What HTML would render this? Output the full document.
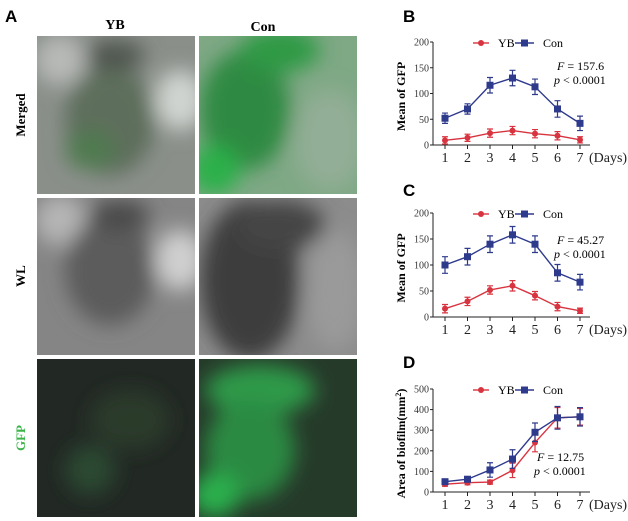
<!DOCTYPE html>
<html><head><meta charset="utf-8"><style>
body{margin:0;background:#fff;}
svg{display:block;font-family:"Liberation Serif",serif;}
</style></head><body>
<svg id="fig" width="628" height="521" viewBox="0 0 628 521">
<defs>
<filter id="bl" x="-20%" y="-20%" width="140%" height="140%"><feGaussianBlur stdDeviation="10"/></filter>
<clipPath id="c1"><rect x="37" y="36" width="158" height="158"/></clipPath>
<clipPath id="c2"><rect x="199" y="36" width="158" height="158"/></clipPath>
<clipPath id="c3"><rect x="37" y="198" width="158" height="157"/></clipPath>
<clipPath id="c4"><rect x="199" y="198" width="158" height="157"/></clipPath>
<clipPath id="c5"><rect x="37" y="359" width="158" height="158"/></clipPath>
<clipPath id="c6"><rect x="199" y="359" width="158" height="158"/></clipPath>
</defs>
<text x="5" y="22" font-size="17" font-weight="bold" font-family="Liberation Sans,sans-serif">A</text>
<text x="115" y="29" font-size="14" font-weight="bold" text-anchor="middle">YB</text>
<text x="263" y="31" font-size="14" font-weight="bold" text-anchor="middle">Con</text>
<text transform="translate(25,115) rotate(-90)" font-size="13" font-weight="bold" text-anchor="middle">Merged</text>
<text transform="translate(25,276) rotate(-90)" font-size="13" font-weight="bold" text-anchor="middle">WL</text>
<text transform="translate(25,438) rotate(-90)" font-size="13" font-weight="bold" text-anchor="middle" fill="#3cb44a">GFP</text>

<g clip-path="url(#c1)">
<rect x="37" y="36" width="158" height="158" fill="#8a8f8a"/>
<g filter="url(#bl)">
<ellipse cx="60" cy="60" rx="25" ry="25" fill="#b8bab8"/>
<ellipse cx="110" cy="120" rx="45" ry="55" fill="#5d6e5c"/>
<ellipse cx="180" cy="100" rx="25" ry="30" fill="#d0d4d0"/>
<ellipse cx="115" cy="55" rx="30" ry="15" fill="#505550"/>
<ellipse cx="90" cy="150" rx="25" ry="20" fill="#4f7a4f"/>
</g></g>
<g clip-path="url(#c2)">
<rect x="199" y="36" width="158" height="158" fill="#7fa885"/>
<g filter="url(#bl)">
<ellipse cx="245" cy="110" rx="45" ry="60" fill="#2f8a42"/>
<ellipse cx="280" cy="50" rx="40" ry="22" fill="#2f9a45"/>
<ellipse cx="215" cy="170" rx="25" ry="25" fill="#2cb04a"/>
<ellipse cx="330" cy="140" rx="35" ry="50" fill="#93ae96"/>
</g></g>
<g clip-path="url(#c3)">
<rect x="37" y="198" width="158" height="157" fill="#858585"/>
<g filter="url(#bl)">
<ellipse cx="60" cy="220" rx="25" ry="25" fill="#b5b5b5"/>
<ellipse cx="110" cy="270" rx="45" ry="55" fill="#5c5c5c"/>
<ellipse cx="180" cy="260" rx="25" ry="30" fill="#cfcfcf"/>
<ellipse cx="120" cy="215" rx="30" ry="15" fill="#4a4a4a"/>
</g></g>
<g clip-path="url(#c4)">
<rect x="199" y="198" width="158" height="157" fill="#8c8c8c"/>
<g filter="url(#bl)">
<ellipse cx="250" cy="280" rx="50" ry="80" fill="#3e3e3e"/>
<ellipse cx="280" cy="225" rx="45" ry="25" fill="#444"/>
<ellipse cx="335" cy="290" rx="30" ry="60" fill="#9a9a9a"/>
</g></g>
<g clip-path="url(#c5)">
<rect x="37" y="359" width="158" height="158" fill="#222824"/>
<g filter="url(#bl)">
<ellipse cx="90" cy="470" rx="25" ry="25" fill="#2b4a30"/>
<ellipse cx="130" cy="420" rx="40" ry="30" fill="#2a3a2c"/>
</g></g>
<g clip-path="url(#c6)">
<rect x="199" y="359" width="158" height="158" fill="#263a2a"/>
<g filter="url(#bl)">
<ellipse cx="260" cy="390" rx="55" ry="25" fill="#2f9a48"/>
<ellipse cx="250" cy="450" rx="45" ry="50" fill="#2c8a42"/>
<ellipse cx="215" cy="495" rx="25" ry="22" fill="#2cb04e"/>
</g></g>

<text x="403" y="22" font-size="17" font-weight="bold" font-family="Liberation Sans,sans-serif">B</text>
<text x="403" y="196" font-size="17" font-weight="bold" font-family="Liberation Sans,sans-serif">C</text>
<text x="403" y="368" font-size="17" font-weight="bold" font-family="Liberation Sans,sans-serif">D</text>
<g id="charts"></g>
</svg>
<script>
const days=[1,2,3,4,5,6,7];
const bYB=[9,14,23,28,22,18,10];
const bYBerr=[7,7,8,8,8,8,6];
const bCon=[52,70,116,130,113,70,42];
const bConErr=[10,10,15,15,15,16,14];
const cYB=[16,30,52,60,41,20,12];
const cYBerr=[8,8,8,10,8,8,5];
const cCon=[100,116,140,158,140,85,67];
const cConErr=[16,16,16,16,16,16,15];
const dYB=[38,45,48,105,240,360,365];
const dYBerr=[10,10,10,35,45,50,40];
const dCon=[50,62,107,160,290,360,365];
const dConErr=[10,10,35,45,45,55,45];
const bTicks=[0,50,100,150,200];
const dTicks=[0,100,200,300,400,500];
const ns='http://www.w3.org/2000/svg';
const root=document.getElementById('charts');
function el(t,a,p){const e=document.createElementNS(ns,t);for(const k in a)e.setAttribute(k,a[k]);(p||root).appendChild(e);return e;}
function chart(id,top,bot,ymax,ticks,yb,ybe,con,cone,ylab,stat,statY){
  const g=el('g',{});
  
  
  const x0=433,x1=445,x7=580;
  const X=d=>x1+(d-1)*(x7-x1)/6;
  const Y=v=>bot-(v/ymax)*(bot-top);
  const ax=el('path',{d:`M${x0},${top}V${bot}H${X(7)+10}`,stroke:'#222',fill:'none','stroke-width':1},g);
  
  ticks.forEach(t=>{el('line',{x1:x0-3,x2:x0,y1:Y(t),y2:Y(t),stroke:'#222'},g);
    const tx=el('text',{x:x0-4,y:Y(t)+3.5,'font-size':10,'text-anchor':'end',fill:'#333'},g);tx.textContent=t;
    });
  days.forEach(d=>{el('line',{x1:X(d),x2:X(d),y1:bot,y2:bot+4,stroke:'#222'},g);
    const tx=el('text',{x:X(d),y:bot+17,'font-size':14,'text-anchor':'middle',fill:'#222'},g);tx.textContent=d;
    });
  const dl=el('text',{x:589,y:bot+17,'font-size':14,fill:'#222'},g);dl.textContent='(Days)';
  
  const yl=el('text',{transform:`translate(405,${(top+bot)/2+3}) rotate(-90)`,'font-size':12,'font-weight':'bold','text-anchor':'middle'},g);
  yl.innerHTML=ylab;
  function series(vals,errs,col,sq,name){
    const sg=el('g',{},g);
    
    vals.forEach((v,i)=>{const x=X(days[i]);
      el('path',{d:`M${x},${Y(v-errs[i])}V${Y(v+errs[i])}M${x-3},${Y(v-errs[i])}h6M${x-3},${Y(v+errs[i])}h6`,stroke:col,'stroke-width':1.2,fill:'none'},sg);});
    el('polyline',{points:vals.map((v,i)=>X(days[i])+','+Y(v)).join(' '),stroke:col,'stroke-width':1.4,fill:'none'},sg);
    vals.forEach((v,i)=>{const x=X(days[i]),y=Y(v);
      const m=sq?el('rect',{x:x-3.5,y:y-3.5,width:7,height:7,fill:col},sg):el('circle',{cx:x,cy:y,r:3,fill:col},sg);
      });
  }
  series(yb,ybe,'#d8343f',false,'series-yb');
  series(con,cone,'#2e3a8c',true,'series-con');
  const lg=el('g',{},g);
  const ly=top+1;
  el('line',{x1:473,x2:489,y1:ly,y2:ly,stroke:'#d8343f','stroke-width':1.4},lg);
  el('circle',{cx:481,cy:ly,r:3,fill:'#d8343f'},lg);
  let t=el('text',{x:498,y:ly+4,'font-size':12},lg);t.textContent='YB';
  el('line',{x1:515,x2:534,y1:ly,y2:ly,stroke:'#2e3a8c','stroke-width':1.4},lg);
  el('rect',{x:521,y:ly-3.5,width:7,height:7,fill:'#2e3a8c'},lg);
  t=el('text',{x:543,y:ly+4,'font-size':12},lg);t.textContent='Con';
  const sx=stat[2];
  const s1=el('text',{x:sx,y:statY,'font-size':12},g);s1.innerHTML='<tspan font-style="italic">F</tspan> = '+stat[0];
  
  const s2=el('text',{x:sx-3,y:statY+14,'font-size':12},g);s2.innerHTML='<tspan font-style="italic">p</tspan> &lt; '+stat[1];
  
}
chart('chart-b',42,145,200,bTicks,bYB,bYBerr,bCon,bConErr,'Mean of GFP',['157.6','0.0001',557],70);
chart('chart-c',213,317,200,bTicks,cYB,cYBerr,cCon,cConErr,'Mean of GFP',['45.27','0.0001',557],244);
chart('chart-d',389,492,500,dTicks,dYB,dYBerr,dCon,dConErr,'Area of biofilm(mm<tspan baseline-shift="super" font-size="8">2</tspan>)',['12.75','0.0001',537],461);
</script>
</body></html>
